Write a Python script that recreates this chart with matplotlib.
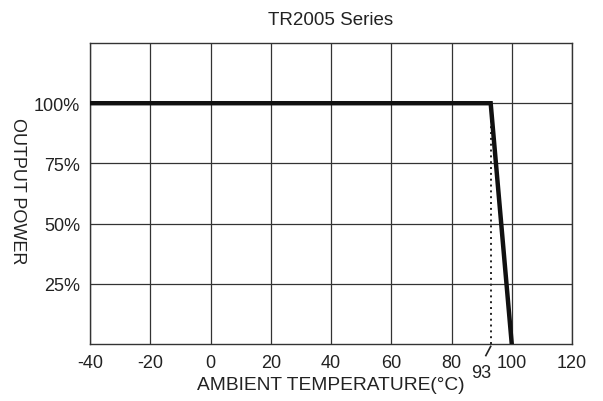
import matplotlib.pyplot as plt

plt.rcParams['font.family'] = ['Liberation Sans', 'DejaVu Sans']
plt.rcParams['axes.unicode_minus'] = False

# Derating curve
temps = [-40, 93, 100]
power = [100, 100, 0]
knee = 93
xticks = [-40, -20, 0, 20, 40, 60, 80, 100, 120]
yticks = [25, 50, 75, 100]
ylabels = ['25%', '50%', '75%', '100%']

fig = plt.figure(figsize=(6.03, 4.02), dpi=100)
ax = fig.add_axes([0.1493, 0.1418, 0.7993, 0.7487])

ax.plot(temps, power, color='#111111', linewidth=3.2, solid_joinstyle='miter', zorder=3)
ax.plot([knee, knee], [0, 100], color='#222222', linestyle=(0, (1, 2)), linewidth=1.4, zorder=2)

ax.set_xlim(-40, 120)
ax.set_ylim(0, 125)
ax.set_xticks(xticks)
ax.set_yticks(yticks)
ax.set_yticklabels(ylabels)
ax.grid(True, color='#333333', linewidth=0.9)
for s in ax.spines.values():
    s.set_color('#333333')
    s.set_linewidth(1.0)
ax.tick_params(length=0, labelsize=13, colors='#222222', pad=7)

ax.set_title('TR2005 Series', fontsize=13.5, color='#222222', pad=14)
ax.set_xlabel('AMBIENT TEMPERATURE(°C)', fontsize=13.8, color='#222222', labelpad=4)
ax.set_ylabel('OUTPUT POWER', fontsize=13, color='#222222', rotation=-90, va='center')
ax.yaxis.set_label_coords(-0.15, 0.51)

# 93 marker with slanted leader line
ax.plot([knee, knee - 1.6], [-1, -4.8], color='#222222', linewidth=1.2, clip_on=False)
ax.text(knee - 3.2, -12, str(knee), fontsize=13, color='#222222', ha='center', va='center')

fig.savefig('out.png', dpi=100)
